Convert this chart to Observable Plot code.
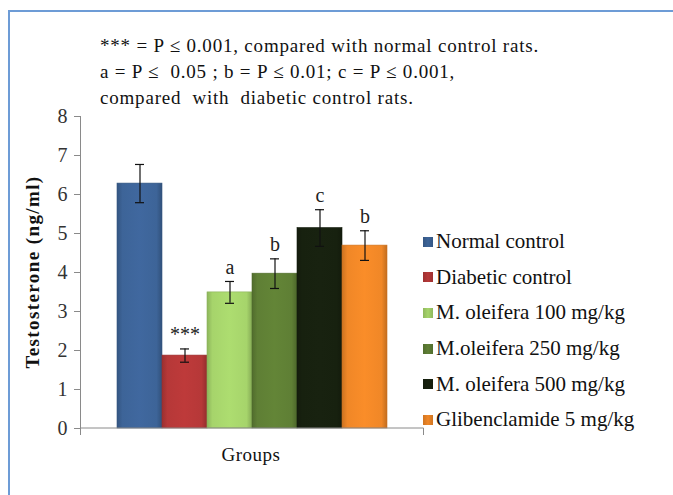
<!DOCTYPE html>
<html><head><meta charset="utf-8">
<script src="https://cdn.jsdelivr.net/npm/d3@7"></script>
<script src="https://cdn.jsdelivr.net/npm/@observablehq/plot@0.6"></script>
<style>
body{margin:0;background:#fff;}
#wrap{position:relative;width:673px;height:495px;overflow:hidden;font-family:"Liberation Serif","Times New Roman",Times,serif;color:#111;}
#frame{position:absolute;left:8px;top:10px;width:720px;height:540px;border-top:2px solid #6d9cd6;border-left:2px solid #6d9cd6;}
#chart{position:absolute;left:0;top:0;}
#note{position:absolute;left:100px;top:33px;font-size:19px;line-height:26px;white-space:pre;letter-spacing:0.8px;}
#legend{position:absolute;left:423px;top:224px;font-size:21px;}
.item{display:flex;align-items:center;height:35.6px;white-space:pre;}
.sw{width:10px;height:10px;margin-right:3px;}
#ytitle{position:absolute;left:33px;top:272px;transform:translate(-50%,-50%) rotate(-90deg);font-weight:bold;font-size:19px;letter-spacing:1.4px;white-space:nowrap;}
#xtitle{position:absolute;left:251px;top:455px;transform:translate(-50%,-50%);font-size:19px;letter-spacing:0.5px;}
</style>
</head><body>
<div id="wrap">
  <div id="frame"></div>
  <div id="chart"></div>
  <div id="note"></div>
  <div id="legend"></div>
  <div id="ytitle"></div>
  <div id="xtitle"></div>
</div>
<script>
const groups = ["Normal control","Diabetic control","M. oleifera 100 mg/kg","M.oleifera 250 mg/kg","M. oleifera 500 mg/kg","Glibenclamide 5 mg/kg"];
const means = [6.28, 1.87, 3.49, 3.97, 5.14, 4.69];
const errors = [0.49, 0.17, 0.28, 0.38, 0.47, 0.38];
const sigLabels = ["", "***", "a", "b", "c", "b"];
const colors = ["#3d6498","#b63838","#a6d46b","#5f7f35","#17210f","#f08727"];
const yTicks = [0,1,2,3,4,5,6,7,8];
const noteLines = ["*** = P \u2264 0.001, compared with normal control rats.",
                   "a = P \u2264  0.05 ; b = P \u2264 0.01; c = P \u2264 0.001,",
                   "compared  with  diabetic control rats."];
const yTitle = "Testosterone (ng/ml)";
const xTitle = "Groups";

const data = groups.map((g,i)=>({group:g, value:means[i], err:errors[i], label:sigLabels[i], idx:i}));

const defsMark = () => {
  const ns = "http://www.w3.org/2000/svg";
  const defs = document.createElementNS(ns,"defs");
  colors.forEach((c,i)=>{
    const g = document.createElementNS(ns,"linearGradient");
    g.setAttribute("id","g"+i);
    g.setAttribute("x1","0");g.setAttribute("x2","1");g.setAttribute("y1","0");g.setAttribute("y2","0");
    const base = d3.color(c);
    [[0, base.darker(0.45)],[0.12, base],[0.5, base.brighter(0.12)],[0.88, base],[1, base.darker(0.6)]].forEach(([o,col])=>{
      const s = document.createElementNS(ns,"stop");
      s.setAttribute("offset",o);s.setAttribute("stop-color",col.formatHex());
      g.appendChild(s);
    });
    defs.appendChild(g);
  });
  return defs;
};

const axisLines = (index, scales, values, dim) => {
  const ns = "http://www.w3.org/2000/svg";
  const g = document.createElementNS(ns,"g");
  g.setAttribute("stroke","#8a8a8a");
  const x0 = dim.marginLeft, x1 = dim.width - dim.marginRight;
  const y0 = scales.y(0), yTop = scales.y(8);
  const lines = [[x0,yTop,x0,y0],[x0,y0,x1,y0],[x0,y0,x0,y0+7],[x1,y0,x1,y0+7]];
  for (const [a,b,c,d] of lines){
    const l = document.createElementNS(ns,"line");
    l.setAttribute("x1",a+0.5);l.setAttribute("y1",b);l.setAttribute("x2",c+0.5);l.setAttribute("y2",d);
    g.appendChild(l);
  }
  return g;
};

const plot = Plot.plot({
  width: 673, height: 495,
  marginLeft: 80, marginRight: 250, marginTop: 116, marginBottom: 67,
  style: {fontFamily: "'Liberation Serif','Times New Roman',Times,serif", fontSize: "19px", color: "#222", background: "transparent"},
  x: {domain: groups, padding: 0, paddingOuter: 0.77, axis: null},
  y: {domain: [0, 8], axis: null},
  color: {type: "identity"},
  marks: [
    defsMark,
    Plot.barY(data, {x: "group", y: "value", fill: d => `url(#g${d.idx})`, stroke: d => d3.color(colors[d.idx]).darker(0.5).formatHex(), strokeWidth: 0.6}),
    Plot.ruleX(data, {x: "group", y1: d => d.value - d.err, y2: d => d.value + d.err, stroke: "#111", strokeWidth: 1.2}),
    Plot.tickY(data, {x: "group", y: d => d.value - d.err, stroke: "#111", strokeWidth: 1.2, insetLeft: 18, insetRight: 18}),
    Plot.tickY(data, {x: "group", y: d => d.value + d.err, stroke: "#111", strokeWidth: 1.2, insetLeft: 18, insetRight: 18}),
    Plot.text(data.filter(d => d.label), {x: "group", y: d => d.value + d.err, text: "label", dy: -14, fontSize: 20, fill: "#222"}),
    Plot.axisY(yTicks, {tickSize: 6, tickPadding: 7, stroke: "#8a8a8a", fill: "#333", fontSize: 20, label: null}),
    axisLines
  ]
});
document.getElementById("chart").appendChild(plot);

const note = document.getElementById("note");
note.textContent = noteLines.join("\n");

const legend = document.getElementById("legend");
groups.forEach((g,i)=>{
  const it = document.createElement("div"); it.className="item";
  const sw = document.createElement("span"); sw.className="sw";
  sw.style.background = `linear-gradient(90deg, ${d3.color(colors[i]).darker(0.4)}, ${colors[i]}, ${d3.color(colors[i]).darker(0.4)})`;
  const t = document.createElement("span"); t.textContent = g;
  it.appendChild(sw); it.appendChild(t); legend.appendChild(it);
});
document.getElementById("ytitle").textContent = yTitle;
document.getElementById("xtitle").textContent = xTitle;
</script>
</body></html>
